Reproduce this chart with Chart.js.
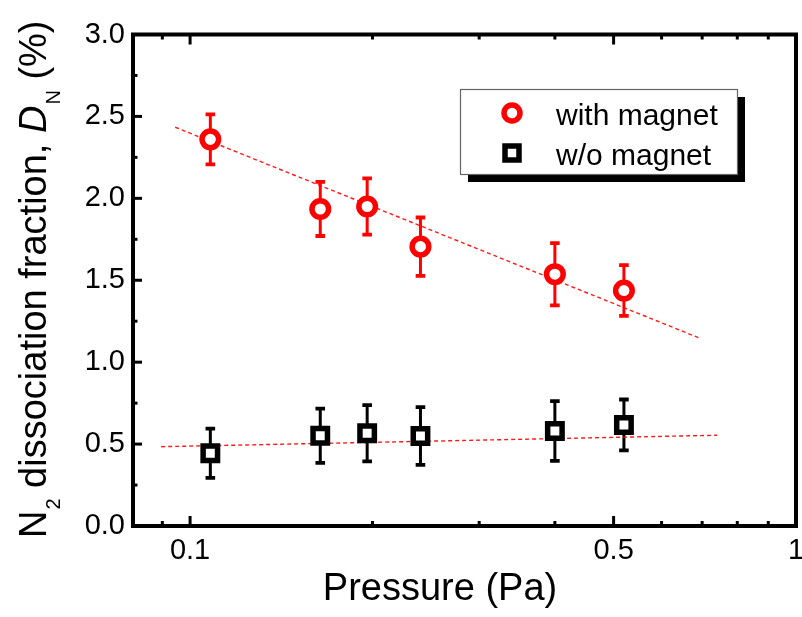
<!DOCTYPE html>
<html>
<head>
<meta charset="utf-8">
<script src="https://cdn.jsdelivr.net/npm/chart.js@4.4.1/dist/chart.umd.min.js"></script>
<style>
  html, body { margin: 0; padding: 0; background: #fff; }
  #wrap { width: 802px; height: 617px; position: relative; }
</style>
</head>
<body>
<div id="wrap"><canvas id="c"></canvas></div>
<script>
// ---- data ----
const pressure = [0.108, 0.164, 0.196, 0.240, 0.400, 0.520];
const withMagnet = [2.36, 1.935, 1.95, 1.705, 1.537, 1.437];
const withMagnetErr = [0.153, 0.165, 0.172, 0.178, 0.19, 0.155];
const withoutMagnet = [0.444, 0.551, 0.566, 0.549, 0.580, 0.617];
const withoutMagnetErr = [0.15, 0.166, 0.172, 0.176, 0.182, 0.155];
const fitWithX = [0.0945, 0.690];
const fitWithY = [2.434, 1.150];
const fitWithoutX = [0.0896, 0.741];
const fitWithoutY = [0.484, 0.554];
const xTickValues = [0.1, 0.5, 1];
const xTickLabels = ['0.1', '0.5', '1'];
const xMinorTicks = [0.09, 0.2, 0.3, 0.4, 0.6, 0.7, 0.8, 0.9];
const yTickValues = [0, 0.5, 1.0, 1.5, 2.0, 2.5, 3.0];
const yMinorTicks = [0.25, 0.75, 1.25, 1.75, 2.25, 2.75];
const seriesLabels = ['with magnet', 'w/o magnet'];
const xTitle = 'Pressure (Pa)';
const yTitleParts = [
  {text: 'N', kind: 'n'}, {text: '2', kind: 'sub'},
  {text: ' dissociation fraction, ', kind: 'n'},
  {text: 'D', kind: 'it'}, {text: 'N', kind: 'sub'}, {text: ' (%)', kind: 'n'}
];

const FONT = "'Liberation Sans', Arial, Helvetica, sans-serif";
const RED = '#ff0000';

const pts = (xs, ys) => xs.map((x, i) => ({x: x, y: ys[i]}));

const errorBars = {
  id: 'errorBars',
  beforeDatasetsDraw(chart) {
    const ctx = chart.ctx, xs = chart.scales.x, ys = chart.scales.y;
    chart.data.datasets.forEach((ds) => {
      if (!ds.errors) return;
      ctx.save();
      ctx.strokeStyle = ds.borderColor;
      ds.data.forEach((p, i) => {
        const e = ds.errors[i];
        const px = xs.getPixelForValue(p.x);
        const top = ys.getPixelForValue(p.y + e);
        const bot = ys.getPixelForValue(p.y - e);
        ctx.lineWidth = 3;
        ctx.beginPath();
        ctx.moveTo(px, top); ctx.lineTo(px, bot);
        ctx.stroke();
        ctx.lineWidth = 3.8;
        ctx.beginPath();
        ctx.moveTo(px - 4.8, top); ctx.lineTo(px + 4.8, top);
        ctx.moveTo(px - 4.8, bot); ctx.lineTo(px + 4.8, bot);
        ctx.stroke();
      });
      ctx.restore();
    });
  }
};

const frameAndText = {
  id: 'frameAndText',
  afterDatasetsDraw(chart) {
    const ctx = chart.ctx, a = chart.chartArea, xs = chart.scales.x, ys = chart.scales.y;
    ctx.save();
    ctx.strokeStyle = '#000';
    // inward ticks (bottom/top mirrored, left)
    ctx.lineWidth = 3;
    const xt = (v, len) => {
      const px = xs.getPixelForValue(v);
      ctx.beginPath();
      ctx.moveTo(px, a.bottom); ctx.lineTo(px, a.bottom - len);
      ctx.moveTo(px, a.top); ctx.lineTo(px, a.top + len);
      ctx.stroke();
    };
    xTickValues.forEach(v => xt(v, 10));
    xMinorTicks.forEach(v => xt(v, 5));
    const yt = (v, len) => {
      const py = ys.getPixelForValue(v);
      ctx.beginPath();
      ctx.moveTo(a.left, py); ctx.lineTo(a.left + len, py);
      ctx.stroke();
    };
    yTickValues.forEach(v => yt(v, 9));
    yMinorTicks.forEach(v => yt(v, 4.5));
    // frame
    ctx.lineWidth = 4;
    ctx.strokeRect(a.left, a.top, a.right - a.left, a.bottom - a.top);

    // x tick labels, placed by the x scale
    ctx.fillStyle = '#000';
    ctx.font = '29px ' + FONT;
    ctx.textAlign = 'center'; ctx.textBaseline = 'middle';
    xTickValues.forEach((v, i) => {
      ctx.fillText(xTickLabels[i], xs.getPixelForValue(v), a.bottom + 25);
    });

    // legend box with drop shadow
    const lx = 460, ly = 89, lw = 277, lh = 85;
    ctx.fillStyle = '#000';
    ctx.fillRect(lx + 8, ly + 8, lw, lh);
    ctx.fillStyle = '#fff';
    ctx.fillRect(lx, ly, lw, lh);
    ctx.lineWidth = 1.2;
    ctx.strokeStyle = '#666';
    ctx.strokeRect(lx + 0.5, ly + 0.5, lw, lh);
    ctx.fillStyle = '#fff';
    ctx.strokeStyle = RED; ctx.lineWidth = 5.5;
    ctx.beginPath(); ctx.arc(512, 113, 8, 0, Math.PI * 2); ctx.fill(); ctx.stroke();
    ctx.strokeStyle = '#000'; ctx.lineWidth = 5.5;
    ctx.beginPath(); ctx.rect(512 - 7, 153 - 7, 14, 14); ctx.fill(); ctx.stroke();
    ctx.fillStyle = '#000';
    ctx.font = '30px ' + FONT;
    ctx.textAlign = 'left'; ctx.textBaseline = 'alphabetic';
    ctx.fillText(chart.data.datasets[0].label, 556, 125);
    ctx.fillText(chart.data.datasets[1].label, 556, 165);

    // x title
    ctx.font = '38px ' + FONT;
    ctx.textAlign = 'center'; ctx.textBaseline = 'middle';
    ctx.fillText(xTitle, 440, 590);

    // y title (rotated, with subscripts and italic)
    ctx.translate(46, (a.top + a.bottom) / 2);
    ctx.rotate(-Math.PI / 2);
    const fontOf = k => k === 'sub' ? '20px ' + FONT : (k === 'it' ? 'italic 38px ' + FONT : '38px ' + FONT);
    let total = 0;
    yTitleParts.forEach(p => { ctx.font = fontOf(p.kind); p.w = ctx.measureText(p.text).width; total += p.w; });
    let x = -total / 2;
    ctx.textAlign = 'left'; ctx.textBaseline = 'alphabetic';
    yTitleParts.forEach(p => {
      ctx.font = fontOf(p.kind);
      ctx.fillText(p.text, x + (p.kind === 'sub' ? 1 : 0), p.kind === 'sub' ? 14 : 0);
      x += p.w + (p.kind === 'sub' ? 1 : 0);
    });
    ctx.restore();
  }
};

new Chart(document.getElementById('c'), {
  type: 'scatter',
  data: {
    datasets: [
      { label: seriesLabels[0], data: pts(pressure, withMagnet), errors: withMagnetErr,
        borderColor: RED, backgroundColor: '#fff', pointStyle: 'circle', pointRadius: 8.3,
        pointBorderWidth: 5.5, pointHoverRadius: 8.3, showLine: false },
      { label: seriesLabels[1], data: pts(pressure, withoutMagnet), errors: withoutMagnetErr,
        borderColor: '#000', backgroundColor: '#fff', pointStyle: 'rect', pointRadius: 10.2,
        pointBorderWidth: 5.5, pointHoverRadius: 10.2, showLine: false },
      { label: 'fit with', data: pts(fitWithX, fitWithY), showLine: true, pointRadius: 0,
        borderColor: 'rgba(255,0,0,0.9)', borderWidth: 1.4, borderDash: [4, 3], fill: false },
      { label: 'fit w/o', data: pts(fitWithoutX, fitWithoutY), showLine: true, pointRadius: 0,
        borderColor: 'rgba(255,0,0,0.9)', borderWidth: 1.4, borderDash: [4, 3], fill: false }
    ]
  },
  options: {
    responsive: true, maintainAspectRatio: false, animation: false, devicePixelRatio: 1,
    layout: { autoPadding: false, padding: { left: 0, right: 6, top: 34.5, bottom: 0 } },
    plugins: { legend: { display: false }, tooltip: { enabled: false } },
    scales: {
      x: {
        type: 'logarithmic', min: 0.0805, max: 1,
        grid: { display: false, drawTicks: false }, border: { display: false },
        afterBuildTicks(scale) { scale.ticks = xTickValues.map(v => ({value: v})); },
        afterFit(scale) { scale.height = 91; },
        ticks: { display: false }
      },
      y: {
        min: 0, max: 3,
        grid: { display: false, drawTicks: false }, border: { display: false },
        afterBuildTicks(scale) { scale.ticks = yTickValues.map(v => ({value: v})); },
        afterFit(scale) { scale.width = 133; },
        ticks: { padding: 8, color: '#000', font: { family: FONT, size: 29 }, callback: v => v.toFixed(1) }
      }
    }
  },
  plugins: [errorBars, frameAndText]
});
</script>
</body>
</html>
